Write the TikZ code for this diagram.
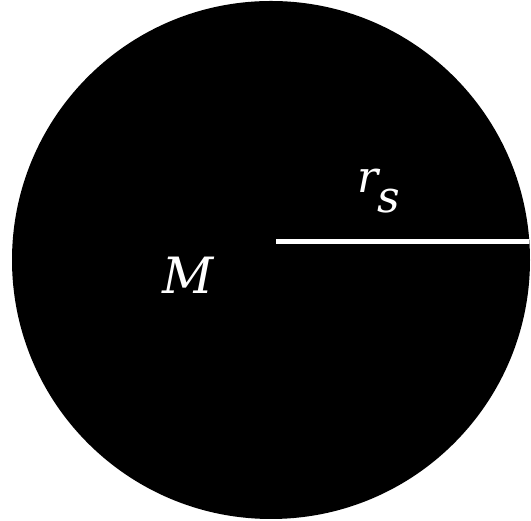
\documentclass[tikz,border=0pt]{standalone}
\usepackage{fontspec}
\newfontfamily\lblfont{DejaVu Serif}
\begin{document}
\begin{tikzpicture}[x=1pt,y=1pt,
  lbl/.style={text=white,inner sep=0pt,font=\lblfont\itshape}]
\useasboundingbox (0,0) rectangle (531,521);
\fill[black] (271,261) circle[radius=259];
\node[lbl,anchor=base,font=\lblfont\itshape\fontsize{50}{52}\selectfont] (m) at (188,227) {M};
\coordinate (c) at (276,279.5);
\coordinate (e) at (529.3,279.5);
\draw[white,line width=4.5pt] (c) -- (e);
\node[lbl,anchor=base west,font=\lblfont\itshape\fontsize{44}{46}\selectfont] (rs) at (357,328) {r\kern-1pt\raisebox{-20pt}{s}};
\end{tikzpicture}
\end{document}
